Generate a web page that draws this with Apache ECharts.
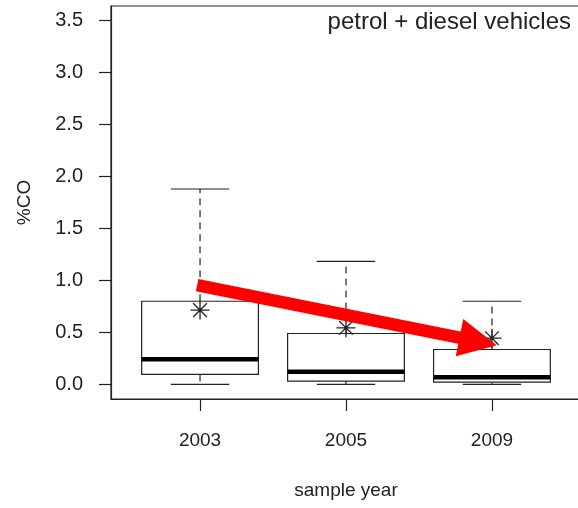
<!DOCTYPE html>
<html>
<head>
<meta charset="utf-8">
<script src="https://cdn.jsdelivr.net/npm/echarts@6/dist/echarts.min.js"></script>
<style>
  html, body { margin: 0; padding: 0; background: #fff; }
  #chart { width: 578px; height: 508px; }
</style>
</head>
<body>
<div id="chart"></div>
<script>
// ---- data ----
const years = ['2003', '2005', '2009'];
const positions = [1, 2, 3];
const lowerWhisker = [0, 0, 0];
const q1 = [0.096, 0.032, 0.022];
const median = [0.243, 0.121, 0.069];
const q3 = [0.80, 0.49, 0.336];
const upperWhisker = [1.88, 1.184, 0.80];
const means = [0.715, 0.545, 0.445];
const yTicks = [0, 0.5, 1, 1.5, 2, 2.5, 3, 3.5];
const arrowStart = [0.98, 0.956];
const arrowEnd = [2.905, 0.414];
const titleText = 'petrol + diesel vehicles';

const FONT = '"Liberation Sans", Arial, sans-serif';
const INK = '#222';

const boxData = positions.map((p, i) => [p, lowerWhisker[i], q1[i], median[i], q3[i], upperWhisker[i]]);
const meanData = positions.map((p, i) => [p, means[i]]);

function renderBox(params, api) {
  const x = api.value(0);
  const lw = api.coord([x, api.value(1)]);
  const b = api.coord([x, api.value(2)]);
  const m = api.coord([x, api.value(3)]);
  const t = api.coord([x, api.value(4)]);
  const uw = api.coord([x, api.value(5)]);
  const bw = api.size([0.8, 0])[0];
  const cw = api.size([0.4, 0])[0];
  const cx = lw[0];
  const st = { stroke: INK, lineWidth: 1.2, fill: null };
  const dash = [7, 5];
  return {
    type: 'group',
    children: [
      { type: 'line', shape: { x1: cx, y1: t[1], x2: cx, y2: uw[1] }, style: Object.assign({}, st, { lineDash: dash }) },
      { type: 'line', shape: { x1: cx, y1: b[1], x2: cx, y2: lw[1] }, style: Object.assign({}, st, { lineDash: dash }) },
      { type: 'line', shape: { x1: cx - cw / 2, y1: uw[1], x2: cx + cw / 2, y2: uw[1] }, style: st },
      { type: 'line', shape: { x1: cx - cw / 2, y1: lw[1], x2: cx + cw / 2, y2: lw[1] }, style: st },
      { type: 'rect', shape: { x: cx - bw / 2, y: t[1], width: bw, height: b[1] - t[1] }, style: Object.assign({}, st, { fill: '#fff' }) },
      { type: 'line', shape: { x1: cx - bw / 2, y1: m[1], x2: cx + bw / 2, y2: m[1] }, style: { stroke: '#000', lineWidth: 4.5 } }
    ]
  };
}

const chart = echarts.init(document.getElementById('chart'), null, { renderer: 'canvas' });
chart.setOption({
  animation: false,
  backgroundColor: '#fff',
  title: {
    text: titleText,
    right: 7,
    top: 10,
    padding: 0,
    textStyle: { fontFamily: FONT, fontSize: 24, fontWeight: 'normal', color: INK }
  },
  grid: {
    left: 111, top: 6, right: -3, bottom: 109,
    show: true, borderColor: INK, borderWidth: 1.2, backgroundColor: 'transparent',
    outerBoundsMode: 'none', containLabel: false
  },
  xAxis: {
    type: 'value', min: 0.39, max: 3.61,
    splitLine: { show: false },
    axisLine: { show: true, onZero: false, lineStyle: { color: INK, width: 1.2 } },
    axisTick: { show: true, length: 12, customValues: positions, lineStyle: { color: INK, width: 1.2 } },
    axisLabel: {
      customValues: positions, margin: 32,
      formatter: v => years[positions.indexOf(Math.round(v))] || '',
      fontFamily: FONT, fontSize: 19, color: INK
    },
    name: 'sample year', nameLocation: 'middle', nameGap: 82,
    nameTextStyle: { fontFamily: FONT, fontSize: 19, color: INK }
  },
  yAxis: {
    type: 'value', min: -0.14, max: 3.64,
    splitLine: { show: false },
    axisLine: { show: true, onZero: false, lineStyle: { color: INK, width: 1.2 } },
    axisTick: { show: true, length: 12, customValues: yTicks, lineStyle: { color: INK, width: 1.2 } },
    axisLabel: {
      customValues: yTicks, margin: 28,
      formatter: v => v.toFixed(1),
      fontFamily: FONT, fontSize: 20, color: INK
    },
    name: '%CO', nameLocation: 'middle', nameGap: 77,
    nameTextStyle: { fontFamily: FONT, fontSize: 19, color: INK }
  },
  series: [
    {
      type: 'custom', name: 'box', data: boxData, renderItem: renderBox,
      encode: { x: 0, y: [1, 2, 3, 4, 5] }, silent: true, z: 2
    },
    {
      type: 'scatter', name: 'mean', data: meanData, z: 3, silent: true,
      symbol: 'path://M0,-1L0,1M-1,0L1,0M-0.72,-0.72L0.72,0.72M-0.72,0.72L0.72,-0.72',
      symbolSize: 19,
      itemStyle: { color: 'none', borderColor: INK, borderWidth: 1.3, opacity: 1 }
    },
    {
      type: 'scatter', name: 'trend', data: [], z: 10, silent: true,
      markLine: {
        silent: true, animation: false,
        symbol: ['none', 'triangle'], symbolSize: 38,
        label: { show: false },
        lineStyle: { color: '#ff0000', width: 12.5, type: 'solid', opacity: 1 },
        itemStyle: { color: '#ff0000' },
        emphasis: { disabled: true },
        data: [[{ coord: arrowStart }, { coord: arrowEnd }]]
      }
    }
  ]
});
</script>
</body>
</html>
